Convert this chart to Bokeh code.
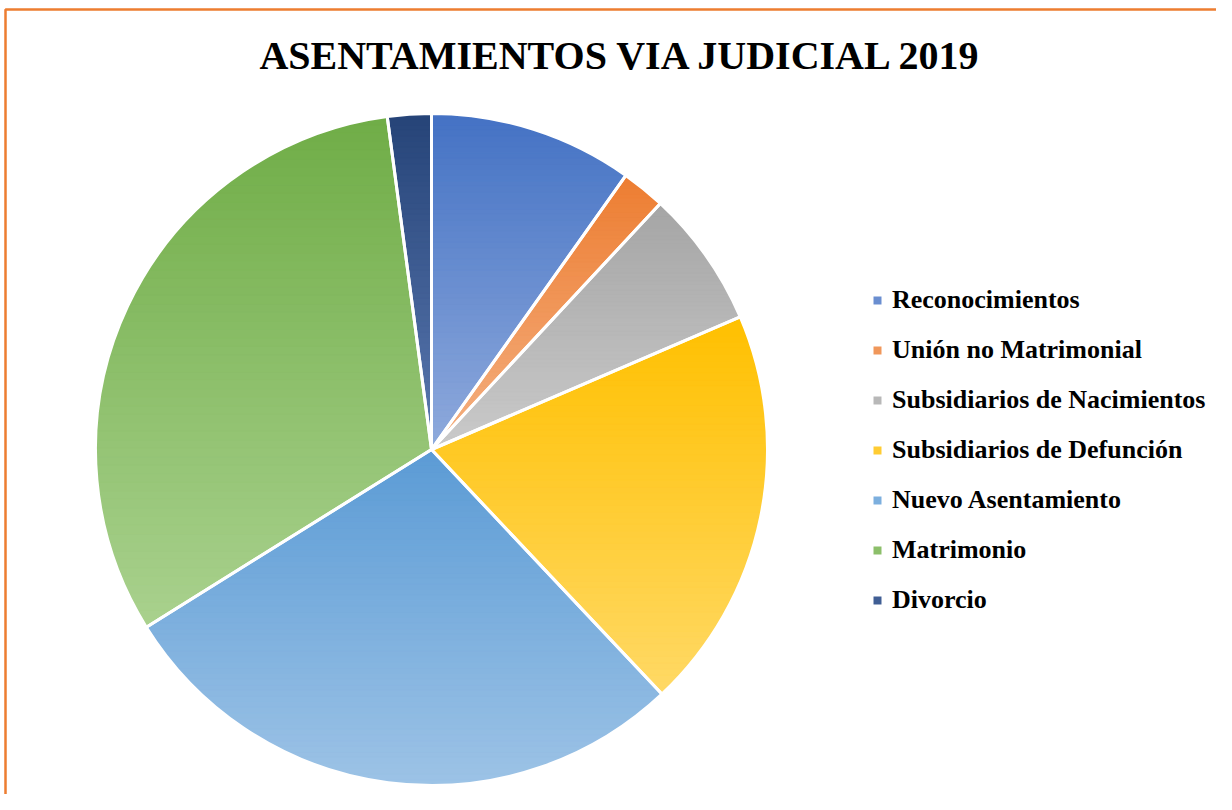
import numpy as np
from bokeh.plotting import figure
from bokeh.models import ColumnDataSource, Legend, LegendItem, BoxAnnotation
from bokeh.core.properties import value
from bokeh.embed import file_html
from bokeh.resources import INLINE

# ---------------- data ----------------
title_text = "ASENTAMIENTOS VIA JUDICIAL 2019"
categories = ["Reconocimientos", "Unión no Matrimonial", "Subsidiarios de Nacimientos",
              "Subsidiarios de Defunción", "Nuevo Asentamiento", "Matrimonio", "Divorcio"]
values = [9.8, 2.1, 6.6, 19.4, 28.1, 31.7, 2.1]
top_colors = ["#4472C4", "#ED7D31", "#A5A5A5", "#FFC000", "#5B9BD5", "#70AD47", "#264478"]
bottom_colors = ["#8FAADC", "#F4B183", "#CACACA", "#FFD966", "#9DC3E6", "#A9D18E", "#5A78B0"]

# ---------------- helpers ----------------
def hex2rgb(h):
    h = h.lstrip("#")
    return np.array([int(h[i:i + 2], 16) for i in (0, 2, 4)], dtype=float)

def mix(c0, c1, t):
    c = hex2rgb(c0) * (1 - t) + hex2rgb(c1) * t
    return "#%02x%02x%02x" % tuple(int(round(v)) for v in c)

def clip_y(poly, yv, keep_above):
    out = []
    n = len(poly)
    for i in range(n):
        cur = poly[i]
        prv = poly[i - 1]
        cin = cur[1] >= yv if keep_above else cur[1] <= yv
        pin = prv[1] >= yv if keep_above else prv[1] <= yv
        if cin:
            if not pin:
                t = (yv - prv[1]) / (cur[1] - prv[1])
                out.append((prv[0] + t * (cur[0] - prv[0]), yv))
            out.append(cur)
        elif pin:
            t = (yv - prv[1]) / (cur[1] - prv[1])
            out.append((prv[0] + t * (cur[0] - prv[0]), yv))
    return out

# ---------------- figure ----------------
W, H = 1216, 794
p = figure(width=W, height=H, x_range=(0, W), y_range=(0, H),
           x_axis_type=None, y_axis_type=None,
           output_backend="svg", toolbar_location=None, min_border=0)
p.grid.visible = False
p.outline_line_color = None
p.background_fill_color = "white"
p.border_fill_color = "white"

cx, cy, r = 431, H - 449, 336

vals = np.array(values, dtype=float)
fr = vals / vals.sum()
cum = np.concatenate([[0], np.cumsum(fr)])
starts = np.pi / 2 - 2 * np.pi * cum[:-1]
ends = np.pi / 2 - 2 * np.pi * cum[1:]
mid_colors = [mix(a, b, 0.5) for a, b in zip(top_colors, bottom_colors)]

src = ColumnDataSource(dict(cat=categories, val=values, start=starts, end=ends,
                            color=mid_colors))

# base wedges (used for legend colors)
wr = p.wedge(x=cx, y=cy, radius=r, start_angle="start", end_angle="end",
             direction="clock", fill_color="color", line_color=None, source=src)

# gradient bands inside each wedge
bx, by, bc = [], [], []
nb = 60
for i in range(len(values)):
    a = np.linspace(starts[i], ends[i], 240)
    poly = [(cx, cy)] + [(cx + r * np.cos(t), cy + r * np.sin(t)) for t in a]
    ys = [q[1] for q in poly]
    ymin, ymax = min(ys), max(ys)
    for j in range(nb):
        ylo = ymin + (ymax - ymin) * j / nb
        yhi = ymin + (ymax - ymin) * (j + 1) / nb
        pc = clip_y(poly, ylo, True)
        if len(pc) < 3:
            continue
        pc = clip_y(pc, yhi, False)
        if len(pc) < 3:
            continue
        t = (ymax - 0.5 * (ylo + yhi)) / (ymax - ymin)
        bx.append([q[0] for q in pc])
        by.append([q[1] for q in pc])
        bc.append(mix(top_colors[i], bottom_colors[i], t))

p.patches(xs=bx, ys=by, fill_color=bc, line_color=bc, line_width=0.8)

# white separators
p.wedge(x=cx, y=cy, radius=r, start_angle="start", end_angle="end",
        direction="clock", fill_color=None, line_color="white", line_width=3,
        source=src)

# title
p.text(x=[621], y=[H - 55], text=[title_text], text_font=value("Liberation Serif"),
       text_font_style="bold", text_font_size="40px", text_align="center",
       text_baseline="middle", text_color="black")

# legend
items = [LegendItem(label=c, renderers=[wr], index=i) for i, c in enumerate(categories)]
legend = Legend(items=items, location=(872, H - 285 - 330), orientation="vertical",
                border_line_color=None, background_fill_alpha=0, padding=0, margin=0,
                spacing=20, label_height=30, glyph_height=10, glyph_width=10,
                label_standoff=10, label_text_font="Liberation Serif",
                label_text_font_style="bold", label_text_font_size="26px",
                label_text_color="black")
p.add_layout(legend)

# orange frame (only top and left edges fall inside the picture)
p.add_layout(BoxAnnotation(left=5, right=W + 30, bottom=-30, top=H - 9,
                           fill_alpha=0, line_color="#ED7D31", line_alpha=1.0,
                           line_width=2.5))

open("out.html", "w").write(file_html(p, INLINE))
